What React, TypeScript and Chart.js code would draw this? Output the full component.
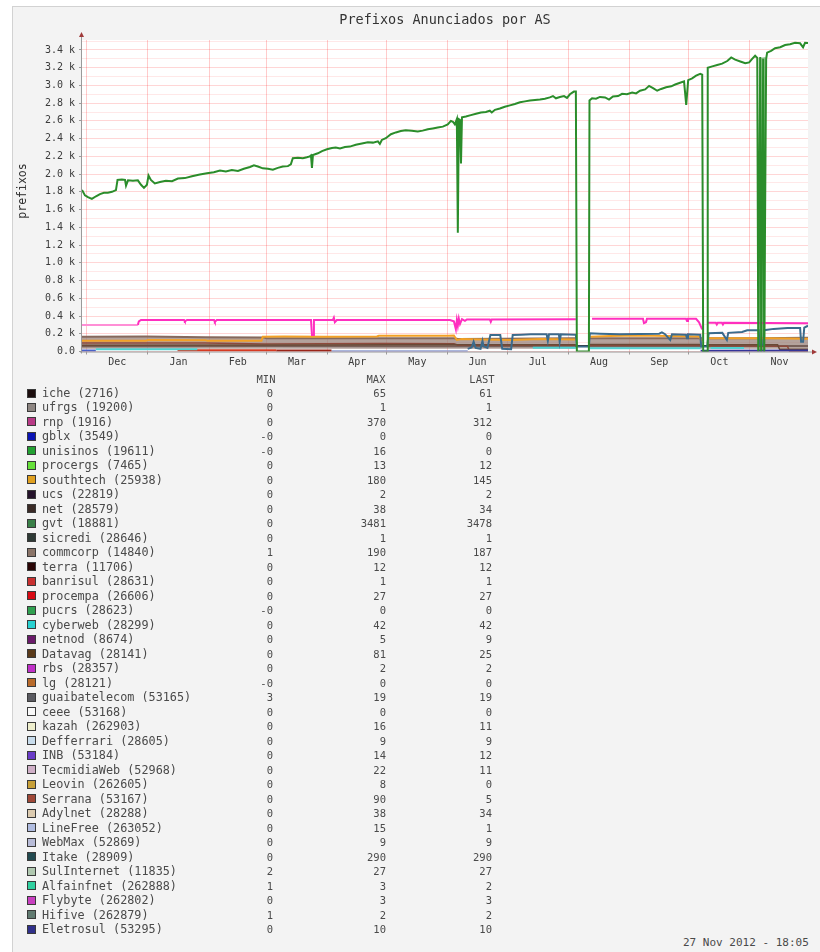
import React, { useEffect, useRef } from 'react';
import { Chart, registerables } from 'chart.js';

Chart.register(...registerables);

// ---------- axis definitions ----------
const X_MIN = -2.4; // days since 1 Dec 2011
const X_MAX = 365.4;
const Y_MAX = 3512;
const monthStarts = [0, 31, 62, 91, 122, 152, 183, 213, 244, 275, 305, 336, 366];
const monthLabels = ['Dec', 'Jan', 'Feb', 'Mar', 'Apr', 'May', 'Jun', 'Jul', 'Aug', 'Sep', 'Oct', 'Nov'];
const yTickLabels = ['0.0', '0.2 k', '0.4 k', '0.6 k', '0.8 k', '1.0 k', '1.2 k', '1.4 k', '1.6 k', '1.8 k', '2.0 k', '2.2 k', '2.4 k', '2.6 k', '2.8 k', '3.0 k', '3.2 k', '3.4 k'];

// ---------- series data (x = days since 1 Dec 2011) ----------
const gvtDays = [-2.4, -0.9, 0.6, 2.6, 4.7, 6.7, 8.7, 10.7, 12.8, 14.8,
  15.6, 17.8, 19.4, 19.9, 20.9, 23.4, 25.9, 27.5, 29.0, 30.5,
  31.3, 32.5, 34.5, 37.1, 40.1, 43.2, 46.2, 49.7, 53.3, 57.3,
  60.9, 64.4, 67.5, 70.5, 73.5, 76.6, 79.6, 82.7, 84.7, 86.7,
  89.2, 91.8, 94.3, 96.8, 99.3, 101.9, 103.4, 104.4, 107.0, 109.5,
  111.5, 113.0, 113.6, 114.1, 114.6, 117.1, 119.2, 121.7, 124.2, 126.2,
  128.3, 130.8, 133.3, 136.3, 139.4, 142.4, 145.0, 147.5, 148.5, 149.5,
  151.5, 154.1, 156.6, 159.1, 161.6, 164.7, 167.7, 170.2, 172.8, 175.3,
  177.8, 180.4, 182.9, 184.5, 185.5, 186.5, 187.5, 188.0, 188.5, 189.1,
  189.6, 190.1, 192.1, 194.6, 197.2, 199.7, 202.2, 204.2, 205.2, 206.8,
  209.3, 211.8, 214.4, 216.9, 219.5, 222.0, 224.5, 227.1, 229.6, 232.1,
  234.6, 236.2, 237.7, 239.7, 241.8, 243.3, 244.8, 246.8, 247.8, 248.3,
  254.4, 254.7, 256.0, 258.0, 260.0, 262.6, 264.6, 266.6, 269.2, 271.2,
  273.7, 276.3, 278.3, 280.3, 282.9, 284.9, 286.9, 289.0, 291.0, 293.5,
  296.1, 298.1, 300.6, 302.6, 303.7, 304.7, 306.7, 308.7, 310.8, 311.8,
  312.3, 314.3, 314.6, 316.9, 319.4, 321.9, 324.5, 326.5, 328.5, 331.1,
  333.6, 335.6, 337.1, 338.6, 339.7, 340.2, 341.2, 341.7, 342.7, 343.2,
  344.2, 344.7, 346.7, 348.7, 351.3, 353.8, 356.3, 358.8,
  361.4, 362.9, 363.9, 365.4];
const gvtValues = [1822, 1760, 1740, 1720, 1750, 1775, 1790, 1790, 1800, 1820,
  1935, 1940, 1935, 1870, 1930, 1925, 1930, 1880, 1845, 1880,
  1985, 1935, 1895, 1910, 1925, 1920, 1950, 1955, 1975, 1995,
  2010, 2020, 2040, 2030, 2045, 2035, 2060, 2080, 2100, 2085,
  2065, 2060, 2050, 2070, 2085, 2090, 2110, 2180, 2185, 2180,
  2190, 2200, 2210, 2070, 2215, 2235, 2260, 2280, 2295, 2300,
  2290, 2305, 2310, 2330, 2345, 2360, 2355, 2370, 2340, 2385,
  2405, 2450, 2470, 2485, 2495, 2490, 2480, 2490, 2505, 2515,
  2525, 2535, 2560, 2600, 2590, 2560, 2620, 1340, 2620, 2610,
  2120, 2640, 2650, 2665, 2680, 2695, 2700, 2715, 2695, 2725,
  2740, 2760, 2775, 2790, 2810, 2820, 2830, 2835, 2840, 2850,
  2865, 2880, 2855, 2870, 2880, 2860, 2900, 2930, 2930, 0,
  0, 2830, 2855, 2850, 2870, 2865, 2840, 2875, 2880, 2905,
  2900, 2920, 2910, 2940, 2955, 2995, 2970, 2940, 2960, 2980,
  2990, 3010, 3030, 3045, 2780, 3060, 3080, 3110, 3130, 3120,
  0, 0, 3200, 3215, 3230, 3245, 3275, 3315, 3290, 3270,
  3250, 3260, 3300, 3335, 3310, 0, 3320, 0, 3300, 0,
  3300, 3370, 3390, 3420, 3430, 3455, 3465, 3480,
  3475, 3430, 3481, 3478];

// light-green fill seen behind the late-October/November dropouts of gvt
const gvtShadeDays = [340.4, 344.0];
const gvtShadeValues = [3310, 3320];

const rnpDays = [-2.4, 25.9, 26.4, 27.5, 49.3, 49.7, 50.8, 64.5, 64.9, 65.9,
  113.6, 114.1, 114.8, 115.1, 124.7, 125.2, 125.7, 126.7, 184, 186,
  187, 187.5, 188, 188.5, 189.1, 190.1, 191.6, 192.6, 204.2, 204.7,
  205.2, 247.8, 248.3, 256, 281.8, 282.3, 283.3, 283.8, 303.6, 304.1,
  304.6, 308.7, 310.2, 311.8, 312.3, 314.6, 318.7, 319.2, 319.7, 321.8,
  322.3, 322.8, 365.4];
const rnpValues = [300, 300, 340, 355, 355, 340, 355, 355, 335, 355,
  355, 185, 185, 355, 355, 380, 330, 355, 355, 340,
  250, 355, 290, 370, 310, 365, 345, 362, 362, 335,
  362, 365, null, 368, 368, 320, 330, 368, 368, 345,
  368, 368, 330, 250, null, 325, 325, 305, 325, 325,
  305, 325, 318];
const RNP_LIGHT_UNTIL = 25.9;

const itakeDays = [193.0, 195.0, 196.0, 197.0, 199.5, 200.5, 201.0, 203.0, 204.5, 209.5,
  210.5, 215.0, 215.8, 220, 225, 233.0, 233.6, 234.2, 239.2, 239.6,
  240.2, 247.8, 248.3, 254.4, 254.9, 260, 270, 290, 291.4, 293,
  295.6, 296.5, 303.6, 304.1, 304.6, 310.8, 311.3, 314.3, 315.1, 322,
  324.3, 325, 332, 334.6, 340.4, 340.9, 342.7, 343.2, 348, 355,
  361.4, 361.9, 362.9, 363.5, 365.4];
const itakeValues = [30, 45, 110, 40, 30, 120, 60, 40, 186, 186,
  30, 25, 186, 190, 195, 195, 120, 195, 195, 110,
  195, 190, 55, 55, 205, 200, 195, 200, 215, 195,
  130, 195, 190, 150, 195, 190, 55, 55, 205, 210,
  130, 210, 220, 240, 240, 75, 75, 240, 255, 265,
  265, 110, 110, 270, 290];

const southtechDays = [-2.4, 30, 31, 60, 61, 88.5, 89.2, 100, 120, 147,
  148, 183, 186, 187.5, 190, 200, 215, 230, 247.8, 250,
  254.9, 265, 280, 295, 310, 311.8, 313, 314.6, 330, 345, 365.4];
const southtechValues = [120, 122, 130, 128, 122, 122, 165, 168, 165, 170,
  178, 178, 180, 130, 140, 135, 130, 140, 135, null,
  165, 175, 180, 175, 170, 120, null, 150, 150, 148, 145];

const commcorpDays = [-2.4, 30, 60, 90, 91, 120, 150, 186, 188, 210, 247.8, 250, 254.9, 280, 311.8, 313, 314.6, 340, 365.4];
const commcorpValues = [165, 168, 160, 158, 150, 150, 148, 150, 140, 145, 150, null, 150, 148, 150, null, 150, 150, 155];

const serranaDays = [-2.4, 60, 90, 150, 186, 188, 247.8, 250, 254.9, 311.8, 313, 314.6, 355, 356, 365.4];
const serranaValues = [95, 95, 85, 90, 88, 70, 70, null, 70, 70, null, 65, 60, 5, 5];

const datavagDays = [-2.4, 120, 186, 188, 247.8, 250, 254.9, 311.8, 313, 314.6, 350, 351, 365.4];
const datavagValues = [70, 72, 80, 75, 75, null, 78, 78, null, 76, 76, 25, 25];

const icheDays = [-2.4, 90, 180, 270, 365.4];
const icheValues = [58, 62, 60, 63, 61];

const cyberwebDays = [4.6, 56, 57, 226, 247.8, 250, 254.9, 311, 312, 316, 333, 334];
const cyberwebValues = [25, 25, null, 42, 42, null, 38, 38, null, 40, 40, null];

const inbDays = [-2.4, 4.6];
const inbValues = [12, 12];
const procempaDays = [46, 96];
const procempaValues = [14, 14];
const terraDays = [96, 124];
const terraValues = [10, 10];
const lineFreeDays = [124, 193];
const lineFreeValues = [4, 4];
const eletrosulDays = [311, 365.4];
const eletrosulValues = [8, 10];

// ---------- legend table ----------
const legendNames = ['iche (2716)', 'ufrgs (19200)', 'rnp (1916)', 'gblx (3549)', 'unisinos (19611)', 'procergs (7465)',
  'southtech (25938)', 'ucs (22819)', 'net (28579)', 'gvt (18881)', 'sicredi (28646)', 'commcorp (14840)',
  'terra (11706)', 'banrisul (28631)', 'procempa (26606)', 'pucrs (28623)', 'cyberweb (28299)', 'netnod (8674)',
  'Datavag (28141)', 'rbs (28357)', 'lg (28121)', 'guaibatelecom (53165)', 'ceee (53168)', 'kazah (262903)',
  'Defferrari (28605)', 'INB (53184)', 'TecmidiaWeb (52968)', 'Leovin (262605)', 'Serrana (53167)', 'Adylnet (28288)',
  'LineFree (263052)', 'WebMax (52869)', 'Itake (28909)', 'SulInternet (11835)', 'Alfainfnet (262888)',
  'Flybyte (262802)', 'Hifive (262879)', 'Eletrosul (53295)'];
const legendMin = ['0', '0', '0', '-0', '-0', '0', '0', '0', '0', '0', '0', '1', '0', '0', '0', '-0', '0', '0', '0', '0',
  '-0', '3', '0', '0', '0', '0', '0', '0', '0', '0', '0', '0', '0', '2', '1', '0', '1', '0'];
const legendMax = ['65', '1', '370', '0', '16', '13', '180', '2', '38', '3481', '1', '190', '12', '1', '27', '0', '42', '5',
  '81', '2', '0', '19', '0', '16', '9', '14', '22', '8', '90', '38', '15', '9', '290', '27', '3', '3', '2', '10'];
const legendLast = ['61', '1', '312', '0', '0', '12', '145', '2', '34', '3478', '1', '187', '12', '1', '27', '0', '42', '9',
  '25', '2', '0', '19', '0', '11', '9', '12', '11', '0', '5', '34', '1', '9', '290', '27', '2', '3', '2', '10'];
const legendColors = ['#1c0d0d', '#8e8682', '#b83a86', '#0a14b4', '#22a032', '#66e03a', '#e0a020', '#24122a', '#3a2a26',
  '#3a8048', '#2e3a36', '#8a7468', '#2a0404', '#c83030', '#d80a14', '#30a050', '#28d0d0', '#6a1a6a', '#5a3a1a',
  '#c030c8', '#b86a2a', '#5a5a60', '#f8f8f8', '#eeeecc', '#c8dcec', '#6a3cc8', '#d0b0c8', '#c8a038', '#a04838',
  '#dccbb0', '#b0bce0', '#b8bcd8', '#224a50', '#b0c8b0', '#30d0a0', '#c840c0', '#607a70', '#30308a'];

const FONT = '"DejaVu Sans Mono", monospace';
const CANVAS_W = 820;
const CANVAS_H = 383;
const PLOT_LEFT = 82;
const PLOT_RIGHT = 808;
const PLOT_TOP = 40;
const PLOT_BOTTOM = 351.5;

function pts(days: number[], vals: (number | null)[]) {
  return days.map((d, i) => ({ x: d, y: vals[i] }));
}

function line(label: string, days: number[], vals: (number | null)[], color: string, width = 2, extra: any = {}) {
  return {
    label,
    data: pts(days, vals),
    borderColor: color,
    backgroundColor: color,
    borderWidth: width,
    pointRadius: 0,
    fill: false,
    spanGaps: false,
    tension: 0,
    ...extra,
  };
}

const framePlugin = {
  id: 'rrdFrame',
  beforeDraw(chart: any) {
    const { ctx, chartArea: a } = chart;
    ctx.save();
    ctx.fillStyle = '#ffffff';
    ctx.fillRect(a.left, a.top, a.right - a.left, a.bottom - a.top);
    ctx.restore();
  },
  beforeDatasetsDraw(chart: any) {
    const { ctx, chartArea: a } = chart;
    ctx.save();
    ctx.strokeStyle = '#9a9a9a';
    ctx.lineWidth = 1;
    ctx.beginPath();
    ctx.moveTo(a.left - 0.5, a.bottom + 2);
    ctx.lineTo(a.left - 0.5, a.top - 5);
    ctx.moveTo(a.left - 2, a.bottom + 0.5);
    ctx.lineTo(a.right + 5, a.bottom + 0.5);
    ctx.stroke();
    ctx.restore();
  },
  afterDraw(chart: any) {
    const { ctx, chartArea: a } = chart;
    ctx.save();
    ctx.fillStyle = '#a03a3a';
    ctx.beginPath();
    ctx.moveTo(a.left - 0.5, a.top - 8);
    ctx.lineTo(a.left - 3, a.top - 3);
    ctx.lineTo(a.left + 2, a.top - 3);
    ctx.closePath();
    ctx.fill();
    ctx.beginPath();
    ctx.moveTo(a.right + 9, a.bottom + 0.5);
    ctx.lineTo(a.right + 4, a.bottom - 2);
    ctx.lineTo(a.right + 4, a.bottom + 3);
    ctx.closePath();
    ctx.fill();
    ctx.restore();
  },
};

export default function App() {
  const canvasRef = useRef<HTMLCanvasElement>(null);

  useEffect(() => {
    const canvas = canvasRef.current;
    if (!canvas) return;
    const mids = monthLabels.map((_, i) => (monthStarts[i] + monthStarts[i + 1]) / 2);
    const starts = monthStarts.filter((v) => v >= X_MIN && v <= X_MAX);
    const startSet = new Set(starts);
    const labelAt = new Map<number, string>();
    mids.forEach((m, i) => labelAt.set(m, monthLabels[i]));

    const datasets: any[] = [
      line('gvt', gvtDays, gvtValues, '#2b8d2b', 2),
      line('rnp', rnpDays, rnpValues, '#ff2fbf', 2, {
        segment: { borderColor: (c: any) => (c.p1.parsed.x <= RNP_LIGHT_UNTIL ? '#ff8fd6' : undefined) },
      }),
      line('Itake', itakeDays, itakeValues, '#3b6b8c', 2),
      line('southtech', southtechDays, southtechValues, '#f2a126', 2),
      line('Eletrosul', eletrosulDays, eletrosulValues, '#34349a', 2),
      line('cyberweb', cyberwebDays, cyberwebValues, '#4fd3d3', 2),
      line('INB', inbDays, inbValues, '#4a62c8', 2),
      line('procempa', procempaDays, procempaValues, '#d63a22', 2),
      line('terra', terraDays, terraValues, '#9a2418', 2),
      line('LineFree', lineFreeDays, lineFreeValues, '#8e9cd0', 2),
      line('Datavag', datavagDays, datavagValues, '#6a4a36', 1.5),
      line('Serrana', serranaDays, serranaValues, '#8e4a3c', 1.5),
      line('commcorp', commcorpDays, commcorpValues, '#86695c', 2, {
        fill: { value: 30 },
        backgroundColor: 'rgba(150,126,118,0.72)',
      }),
      line('iche', icheDays, icheValues, '#2a1410', 2),
      line('gvt shade', gvtShadeDays, gvtShadeValues, 'rgba(120,190,120,0.0)', 0, {
        fill: 'origin',
        backgroundColor: 'rgba(110,180,110,0.75)',
      }),
    ];

    const chart = new Chart(canvas, {
      type: 'line',
      data: { datasets },
      options: {
        responsive: false,
        animation: false,
        devicePixelRatio: 1,
        events: [],
        layout: { padding: { top: PLOT_TOP, left: 0, right: CANVAS_W - PLOT_RIGHT, bottom: 0 } },
        plugins: {
          legend: { display: false },
          title: { display: false },
          tooltip: { enabled: false },
        },
        elements: { point: { radius: 0 }, line: { tension: 0 } },
        scales: {
          x: {
            type: 'linear',
            min: X_MIN,
            max: X_MAX,
            border: { display: false },
            afterBuildTicks: (s: any) => {
              s.ticks = [...starts, ...mids].sort((a, b) => a - b).map((v) => ({ value: v }));
            },
            afterFit: (s: any) => {
              s.height = CANVAS_H - PLOT_BOTTOM;
              s.paddingLeft = 0;
              s.paddingRight = 0;
            },
            grid: {
              color: (c: any) => (startSet.has(c.tick?.value) ? 'rgba(255,0,0,0.2)' : 'rgba(0,0,0,0)'),
              tickColor: (c: any) => (startSet.has(c.tick?.value) ? '#9a9a9a' : 'rgba(0,0,0,0)'),
              tickLength: 3,
              lineWidth: 1,
            },
            ticks: {
              autoSkip: false,
              maxRotation: 0,
              minRotation: 0,
              padding: 2,
              color: '#3c3c3c',
              font: { family: FONT, size: 10 },
              callback: (v: any) => labelAt.get(Number(v)) ?? '',
            },
          },
          y: {
            type: 'linear',
            min: 0,
            max: Y_MAX,
            border: { display: false },
            afterFit: (s: any) => {
              s.width = PLOT_LEFT;
              s.paddingTop = 0;
              s.paddingBottom = 0;
            },
            grid: {
              color: (c: any) => (c.tick?.value % 200 === 0 ? 'rgba(255,0,0,0.16)' : 'rgba(255,0,0,0.09)'),
              tickColor: (c: any) => (c.tick?.value % 200 === 0 ? '#9a9a9a' : 'rgba(0,0,0,0)'),
              tickLength: 3,
              lineWidth: 1,
            },
            ticks: {
              stepSize: 100,
              includeBounds: false,
              autoSkip: false,
              padding: 4,
              color: '#3c3c3c',
              font: { family: FONT, size: 10 },
              callback: (v: any) => {
                const n = Number(v);
                return n % 200 === 0 ? yTickLabels[n / 200] ?? '' : '';
              },
            },
          },
        },
      } as any,
      plugins: [framePlugin],
    });
    return () => chart.destroy();
  }, []);

  const ROW0 = 393;
  const ROW_H = 14.49;
  const TXT = '#4a4a4a';

  return (
    <div style={{ position: 'absolute', left: 0, top: 0, width: 820, height: 952, background: '#ffffff', overflow: 'hidden', fontFamily: FONT, color: TXT }}>
      <div style={{ position: 'absolute', left: 12, top: 6, width: 808, height: 946, background: '#f3f3f3', borderLeft: '1px solid #d2d2d2', borderTop: '1px solid #d2d2d2', boxSizing: 'border-box' }} />
      <canvas ref={canvasRef} width={CANVAS_W} height={CANVAS_H} style={{ position: 'absolute', left: 0, top: 0, width: CANVAS_W, height: CANVAS_H }} />
      <div style={{ position: 'absolute', left: PLOT_LEFT, width: PLOT_RIGHT - PLOT_LEFT, top: 11, lineHeight: '16px', textAlign: 'center', fontSize: 13.5, color: '#333', whiteSpace: 'pre' }}>
        Prefixos Anunciados por AS
      </div>
      <div style={{ position: 'absolute', left: 22 - 50, top: 191 - 7, width: 100, height: 14, lineHeight: '14px', textAlign: 'center', fontSize: 11.5, color: '#333', transform: 'rotate(-90deg)' }}>
        prefixos
      </div>
      <div style={{ position: 'absolute', left: 266 - 30, width: 60, top: 379 - 7, lineHeight: '14px', textAlign: 'center', fontSize: 10.5 }}>MIN</div>
      <div style={{ position: 'absolute', left: 376 - 30, width: 60, top: 379 - 7, lineHeight: '14px', textAlign: 'center', fontSize: 10.5 }}>MAX</div>
      <div style={{ position: 'absolute', left: 482 - 30, width: 60, top: 379 - 7, lineHeight: '14px', textAlign: 'center', fontSize: 10.5 }}>LAST</div>
      {legendNames.map((name, i) => {
        const cy = ROW0 + i * ROW_H;
        return (
          <React.Fragment key={name}>
            <div style={{ position: 'absolute', left: 27, top: cy - 4.5, width: 9, height: 9, background: legendColors[i], border: '1px solid #3a3a3a', boxSizing: 'border-box' }} />
            <div style={{ position: 'absolute', left: 42, top: cy - 7, lineHeight: '14px', fontSize: 11.8, whiteSpace: 'pre' }}>{name}</div>
            <div style={{ position: 'absolute', left: 273 - 60, width: 60, top: cy - 7, lineHeight: '14px', fontSize: 10.5, textAlign: 'right' }}>{legendMin[i]}</div>
            <div style={{ position: 'absolute', left: 386 - 60, width: 60, top: cy - 7, lineHeight: '14px', fontSize: 10.5, textAlign: 'right' }}>{legendMax[i]}</div>
            <div style={{ position: 'absolute', left: 492 - 60, width: 60, top: cy - 7, lineHeight: '14px', fontSize: 10.5, textAlign: 'right' }}>{legendLast[i]}</div>
          </React.Fragment>
        );
      })}
      <div style={{ position: 'absolute', left: 683, top: 943 - 7, lineHeight: '14px', fontSize: 11, whiteSpace: 'pre' }}>
        27 Nov 2012 - 18:05
      </div>
    </div>
  );
}
